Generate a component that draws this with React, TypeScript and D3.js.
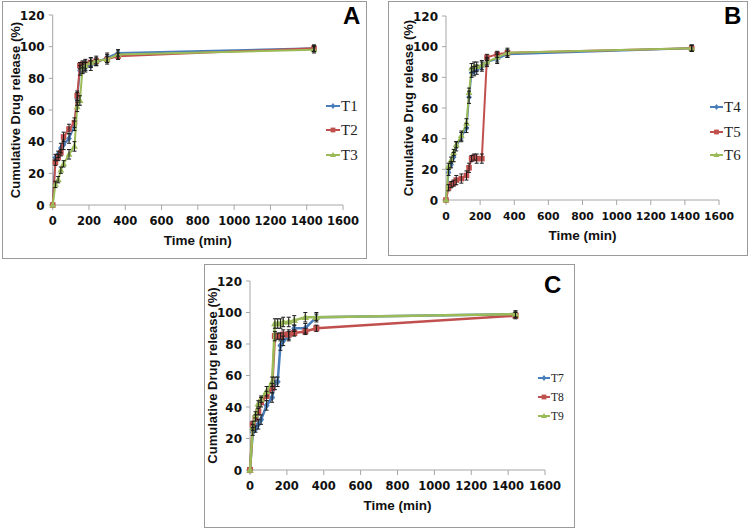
import React from 'react';
import * as d3 from 'd3';

const TIMES = [0, 15, 30, 45, 60, 90, 120, 135, 150, 165, 180, 210, 240, 300, 360, 1440];
const X_TICKS = [0, 200, 400, 600, 800, 1000, 1200, 1400, 1600];
const Y_TICKS = [0, 20, 40, 60, 80, 100, 120];

// Panel A
const T1 = [0, 30, 32, 36, 38, 42, 50, 67, 85, 86, 87, 88, 90, 93, 96, 99];
const T2 = [0, 27, 30, 33, 43, 48, 52, 69, 88, 89, 89, 90, 91, 92, 94, 99];
const T3 = [0, 13, 16, 22, 26, 32, 37, 62, 66, 87, 88, 90, 91, 92, 95, 98];
// Panel B
const T4 = [0, 18, 23, 28, 35, 41, 47, 67, 83, 84, 85, 87, 90, 92, 95, 99];
const T5 = [0, 8, 10, 11, 13, 14, 16, 21, 27, 28, 27, 27, 93, 95, 96, 99];
const T6 = [0, 22, 26, 31, 36, 42, 50, 70, 86, 87, 87, 88, 90, 93, 96, 99];
// Panel C
const T7 = [0, 24, 26, 29, 32, 41, 46, 55, 56, 79, 82, 85, 90, 90, 97, 99];
const T8 = [0, 29, 33, 37, 43, 47, 52, 85, 85, 85, 86, 86, 87, 88, 90, 98];
const T9 = [0, 27, 35, 42, 45, 50, 56, 93, 93, 93, 94, 94, 95, 97, 97, 99];

// Standard deviations (error bars)
const SD_BLUE = [0, 2, 2, 3, 3, 3, 3, 4, 3, 3, 3, 3, 2, 3, 2, 2];
const SD_RED = [0, 2, 2, 2, 3, 3, 3, 3, 2, 2, 3, 3, 2, 2, 2, 2];
const SD_GREEN = [0, 2, 2, 2, 2, 3, 3, 3, 3, 3, 3, 3, 3, 3, 3, 2];

const BLUE = '#4a7ebb';
const RED = '#c0504d';
const GREEN = '#9bbb59';

type Shape = 'diamond' | 'square' | 'triangle';

function Marker({ shape, cx, cy, color, s }: { shape: Shape; cx: number; cy: number; color: string; s: number }) {
  if (shape === 'diamond') {
    return <path d={`M${cx},${cy - s}L${cx + s * 0.8},${cy}L${cx},${cy + s}L${cx - s * 0.8},${cy}Z`} fill={color} />;
  }
  if (shape === 'square') {
    return <rect x={cx - s * 0.8} y={cy - s * 0.8} width={s * 1.6} height={s * 1.6} fill={color} />;
  }
  return <path d={`M${cx},${cy - s}L${cx + s},${cy + s * 0.7}L${cx - s},${cy + s * 0.7}Z`} fill={color} />;
}

interface Series { name: string; values: number[]; sd: number[]; color: string; shape: Shape }

interface PanelProps {
  frame: [number, number, number, number];
  plot: { x0: number; x1: number; y0: number; y1: number };
  letter: string;
  letterPos: [number, number];
  series: Series[];
  legend: { x: number; ys: number[]; font: number; len: number };
  markerSize: number;
  lineWidth: number;
  tickSize: number;
}

function Panel({ frame, plot, letter, letterPos, series, legend, markerSize, lineWidth, tickSize }: PanelProps) {
  const x = d3.scaleLinear().domain([0, 1600]).range([plot.x0, plot.x1]);
  const y = d3.scaleLinear().domain([0, 120]).range([plot.y0, plot.y1]);
  const line = d3
    .line<number>()
    .x((_, i) => x(TIMES[i]))
    .y((d) => y(d));
  const axisColor = '#a6a6a6';
  const tickFont = 'DejaVu Sans, sans-serif';
  const xMid = (plot.x0 + plot.x1) / 2;
  const yMid = (plot.y0 + plot.y1) / 2;
  return (
    <g>
      <rect x={frame[0] + 0.5} y={frame[1] + 0.5} width={frame[2] - frame[0]} height={frame[3] - frame[1]} fill="white" stroke="#9a9a9a" strokeWidth={1} />
      {/* axes */}
      <line x1={plot.x0} x2={plot.x1} y1={plot.y0} y2={plot.y0} stroke={axisColor} strokeWidth={1} />
      <line x1={plot.x0} x2={plot.x0} y1={plot.y0} y2={plot.y1} stroke={axisColor} strokeWidth={1} />
      {X_TICKS.map((t) => (
        <g key={'x' + t}>
          <line x1={x(t)} x2={x(t)} y1={plot.y0} y2={plot.y0 + 5} stroke={axisColor} />
          <text x={x(t)} y={plot.y0 + 20} textAnchor="middle" fontFamily={tickFont} fontWeight="bold" fontSize={tickSize} fill="#111">
            {t}
          </text>
        </g>
      ))}
      {Y_TICKS.map((t) => (
        <g key={'y' + t}>
          <line x1={plot.x0 - 4} x2={plot.x0} y1={y(t)} y2={y(t)} stroke={axisColor} />
          <text x={plot.x0 - 8} y={y(t) + 4.5} textAnchor="end" fontFamily={tickFont} fontWeight="bold" fontSize={12} fill="#111">
            {t}
          </text>
        </g>
      ))}
      <text x={xMid} y={plot.y0 + 40} textAnchor="middle" fontFamily="Liberation Sans, Arial, sans-serif" fontWeight="bold" fontSize={13.5} fill="#111">
        Time (min)
      </text>
      <text
        transform={`translate(${plot.x0 - 33},${yMid}) rotate(-90)`}
        textAnchor="middle"
        fontFamily="Liberation Sans, Arial, sans-serif"
        fontWeight="bold"
        fontSize={13}
        fill="#111"
      >
        Cumulative Drug release (%)
      </text>
      <text x={letterPos[0]} y={letterPos[1]} fontFamily="Liberation Sans, Arial, sans-serif" fontWeight="bold" fontSize={24} fill="#000">
        {letter}
      </text>
      {/* series */}
      {series.map((s) => (
        <g key={s.name}>
          <path d={line(s.values) || ''} fill="none" stroke={s.color} strokeWidth={lineWidth} />
          {s.values.map((v, i) => (
            <Marker key={i} shape={s.shape} cx={x(TIMES[i])} cy={y(v)} color={s.color} s={markerSize} />
          ))}
        </g>
      ))}
      {series.map((s) => (
        <g key={s.name + 'e'} stroke="#1a1a1a" strokeWidth={1}>
          {s.values.map((v, i) =>
            s.sd[i] > 0 ? (
              <g key={i}>
                <line x1={x(TIMES[i])} x2={x(TIMES[i])} y1={y(v - s.sd[i])} y2={y(v + s.sd[i])} />
                <line x1={x(TIMES[i]) - 2} x2={x(TIMES[i]) + 2} y1={y(v + s.sd[i])} y2={y(v + s.sd[i])} />
                <line x1={x(TIMES[i]) - 2} x2={x(TIMES[i]) + 2} y1={y(v - s.sd[i])} y2={y(v - s.sd[i])} />
              </g>
            ) : null
          )}
        </g>
      ))}
      {/* legend */}
      {series.map((s, i) => (
        <g key={s.name + 'l'}>
          <line x1={legend.x} x2={legend.x + legend.len} y1={legend.ys[i]} y2={legend.ys[i]} stroke={s.color} strokeWidth={2} />
          <Marker shape={s.shape} cx={legend.x + legend.len / 2} cy={legend.ys[i]} color={s.color} s={3} />
          <text x={legend.x + legend.len + 1} y={legend.ys[i] + legend.font * 0.33} fontFamily="Liberation Serif, Times New Roman, serif" fontSize={legend.font} fill="#222">
            {s.name}
          </text>
        </g>
      ))}
    </g>
  );
}

export default function App() {
  return (
    <svg width={750} height={530} style={{ position: 'absolute', left: 0, top: 0, background: 'white' }}>
      <rect x={0} y={0} width={750} height={530} fill="white" />
      <Panel
        frame={[2, 1, 366, 258]}
        plot={{ x0: 52.7, x1: 343, y0: 205, y1: 15 }}
        letter="A"
        letterPos={[343, 24]}
        series={[
          { name: 'T1', values: T1, sd: SD_BLUE, color: BLUE, shape: 'diamond' },
          { name: 'T2', values: T2, sd: SD_RED, color: RED, shape: 'square' },
          { name: 'T3', values: T3, sd: SD_GREEN, color: GREEN, shape: 'triangle' },
        ]}
        legend={{ x: 326, ys: [106, 130, 155], font: 15, len: 14 }}
        markerSize={3.5}
        lineWidth={2}
        tickSize={11.5}
      />
      <Panel
        frame={[388, 1, 747, 255]}
        plot={{ x0: 446, x1: 719, y0: 200, y1: 16 }}
        letter="B"
        letterPos={[724, 24]}
        series={[
          { name: 'T4', values: T4, sd: SD_BLUE, color: BLUE, shape: 'diamond' },
          { name: 'T5', values: T5, sd: SD_RED, color: RED, shape: 'square' },
          { name: 'T6', values: T6, sd: SD_GREEN, color: GREEN, shape: 'triangle' },
        ]}
        legend={{ x: 710, ys: [107, 132, 155], font: 15, len: 13 }}
        markerSize={3.5}
        lineWidth={2}
        tickSize={10.8}
      />
      <Panel
        frame={[204, 264, 574, 527]}
        plot={{ x0: 250, x1: 545, y0: 470, y1: 281 }}
        letter="C"
        letterPos={[544, 293]}
        series={[
          { name: 'T7', values: T7, sd: SD_BLUE, color: BLUE, shape: 'diamond' },
          { name: 'T8', values: T8, sd: SD_RED, color: RED, shape: 'square' },
          { name: 'T9', values: T9, sd: SD_GREEN, color: GREEN, shape: 'triangle' },
        ]}
        legend={{ x: 538, ys: [378, 397, 416], font: 11.5, len: 12 }}
        markerSize={3.8}
        lineWidth={2.5}
        tickSize={11.5}
      />
    </svg>
  );
}
